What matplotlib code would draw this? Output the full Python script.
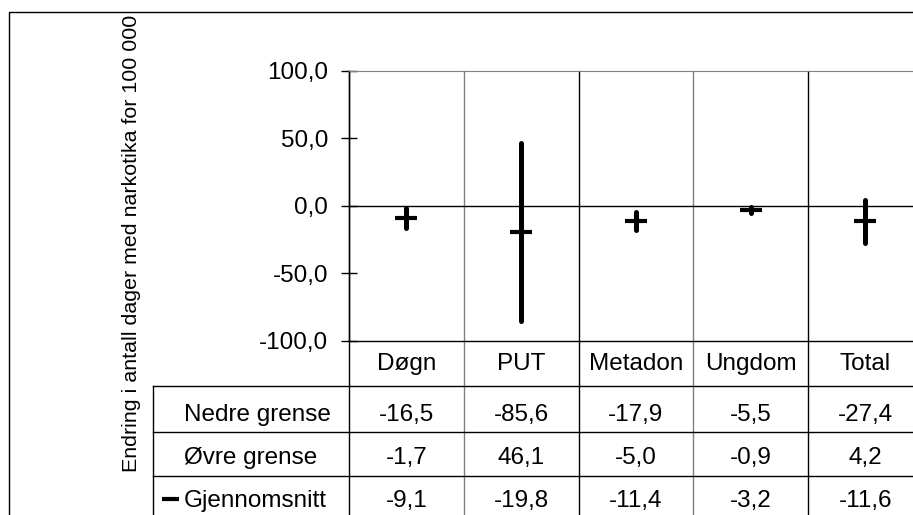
import numpy as np
import matplotlib
matplotlib.use("Agg")
import matplotlib.pyplot as plt
from matplotlib.transforms import blended_transform_factory
from matplotlib.patches import Rectangle

plt.rcParams['font.family'] = ['Liberation Sans', 'DejaVu Sans']

# high-low data per treatment type
categories = ['Døgn', 'PUT', 'Metadon', 'Ungdom', 'Total']
lower = [-16.5, -85.6, -17.9, -5.5, -27.4]
upper = [-1.7, 46.1, -5.0, -0.9, 4.2]
mean = [-9.1, -19.8, -11.4, -3.2, -11.6]
row_names = ['Nedre grense', 'Øvre grense', 'Gjennomsnitt']
yticks = [-100, -50, 0, 50, 100]

W, H = 913, 515
fs = 17.5


def fmt(v):
    return f"{v:.1f}".replace('.', ',')


fig = plt.figure(figsize=(W / 100, H / 100), dpi=100)

# full-figure pixel layer for the frame and data table
bg = fig.add_axes([0, 0, 1, 1])
bg.set_xlim(0, W)
bg.set_ylim(H, 0)
bg.axis('off')

# outer chart frame
bg.add_patch(Rectangle((9, 12), W + 20, H + 20, fill=False, ec='black', lw=1))

# plot area
x0, x1, ytop, ybot = 349, 349 + 5 * 114.75, 70.7, 340.5
ax = fig.add_axes([x0 / W, 1 - ybot / H, (x1 - x0) / W, (ybot - ytop) / H])
ax.set_xlim(-0.5, 4.5)
ax.set_ylim(-100, 100)
ax.patch.set_alpha(0)
ax.spines['right'].set_visible(False)
ax.spines['top'].set_color('#808080')
ax.spines['left'].set_linewidth(1)
ax.spines['bottom'].set_linewidth(1)
ax.set_xticks([])
ax.set_yticks(yticks)
ax.set_yticklabels([fmt(v) for v in yticks])
ax.tick_params(axis='y', direction='inout', length=12, width=1, pad=9,
               labelsize=fs)
ax.axhline(0, color='black', lw=1, zorder=1)

xs = np.arange(len(categories))
ax.vlines(xs, lower, upper, colors='black', lw=3.6, capstyle='round', zorder=3)
ax.plot(xs, mean, ls='none', marker='_', ms=16, mew=3, color='black', zorder=4)

# column separators running through plot and table
tr = blended_transform_factory(ax.transData, bg.transData)
for i, xb in enumerate([-0.5, 0.5, 1.5, 2.5, 3.5]):
    c = '#808080' if i % 2 == 1 else 'black'
    bg.plot([xb, xb], [ytop, H], color=c, lw=1, transform=tr, clip_on=False)

# table row lines and left border
for yl in [386, 432, 476]:
    bg.plot([153, W], [yl, yl], color='black', lw=1)
bg.plot([153, 153], [386, H], color='black', lw=1)

# category labels
for xi, cat in zip(xs, categories):
    bg.text(xi, 370, cat, transform=tr, ha='center', va='baseline', fontsize=fs)

# table contents
rows = [lower, upper, mean]
baselines = [421, 464, 507]
for name, vals, yb in zip(row_names, rows, baselines):
    bg.text(184, yb, name, ha='left', va='baseline', fontsize=fs)
    for xi, v in zip(xs, vals):
        bg.text(xi, yb, fmt(v), transform=tr, ha='center', va='baseline',
                fontsize=fs)

# legend key for the mean marker
bg.plot([162, 179], [499, 499], color='black', lw=3, solid_capstyle='butt')

bg.text(137, 472, 'Endring i antall dager med narkotika for 100 000',
        rotation=90, rotation_mode='anchor', ha='left', va='baseline',
        fontsize=15.4)

fig.savefig('out.png', dpi=100)
